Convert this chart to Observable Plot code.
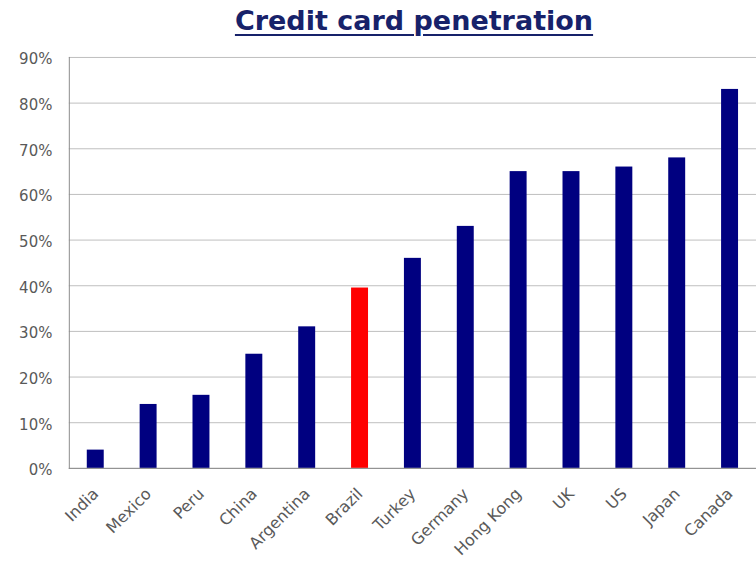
<!DOCTYPE html>
<html>
<head>
<meta charset="utf-8">
<script src="https://cdn.jsdelivr.net/npm/d3@7"></script>
<script src="https://cdn.jsdelivr.net/npm/@observablehq/plot@0.6"></script>
<style>
  body { margin: 0; background: #fff; overflow: hidden; }
  #title { height: 45px; width: 756px; position: relative; }
  #title span { position: absolute; left: 414px; top: 5px; transform: translateX(-50%);
    font-family: "DejaVu Sans", sans-serif; font-weight: bold; font-size: 27px; color: #17226A;
    text-decoration: underline; text-decoration-thickness: 2px; text-underline-offset: 4px; white-space: nowrap; }
</style>
</head>
<body>
<div id="title"><span>Credit card penetration</span></div>
<div id="chart"></div>
<script>
const countries = ["India","Mexico","Peru","China","Argentina","Brazil","Turkey","Germany","Hong Kong","UK","US","Japan","Canada"];
const values = [4, 14, 16, 25, 31, 39.5, 46, 53, 65, 65, 66, 68, 83];
const highlight = "Brazil";
const yTicks = [0,10,20,30,40,50,60,70,80,90];

const data = countries.map((c, i) => ({country: c, value: values[i] / 100}));

const chart = Plot.plot({
  width: 758,
  height: 517,
  marginLeft: 69,
  marginRight: 0,
  marginTop: 12,
  marginBottom: 93,
  style: {fontFamily: "'DejaVu Sans', sans-serif", fontSize: "15px", color: "#595959", background: "#fff", overflow: "visible"},
  x: {domain: countries, paddingInner: 0.685, paddingOuter: 0.3425, align: 0.5, label: null},
  y: {domain: [0, 0.9], label: null},
  marks: [
    Plot.gridY(yTicks.map(d => d / 100), {stroke: "#bfbfbf", strokeOpacity: 1, strokeWidth: 1}),
    Plot.barY(data, {x: "country", y: "value", fill: d => d.country === highlight ? "#ff0000" : "#000080"}),
    Plot.frame({anchor: "left", stroke: "#8c8c8c"}),
    Plot.ruleY([0], {stroke: "#8c8c8c"}),
    Plot.axisY(yTicks.map(d => d / 100), {tickSize: 0, tickPadding: 17, dy: 2, tickFormat: d => Math.round(d * 100) + "%", label: null}),
    Plot.axisX({tickSize: 0, tickRotate: -45, tickPadding: 12, dy: 11, fontSize: 16, label: null})
  ]
});
document.getElementById("chart").appendChild(chart);
</script>
</body>
</html>
